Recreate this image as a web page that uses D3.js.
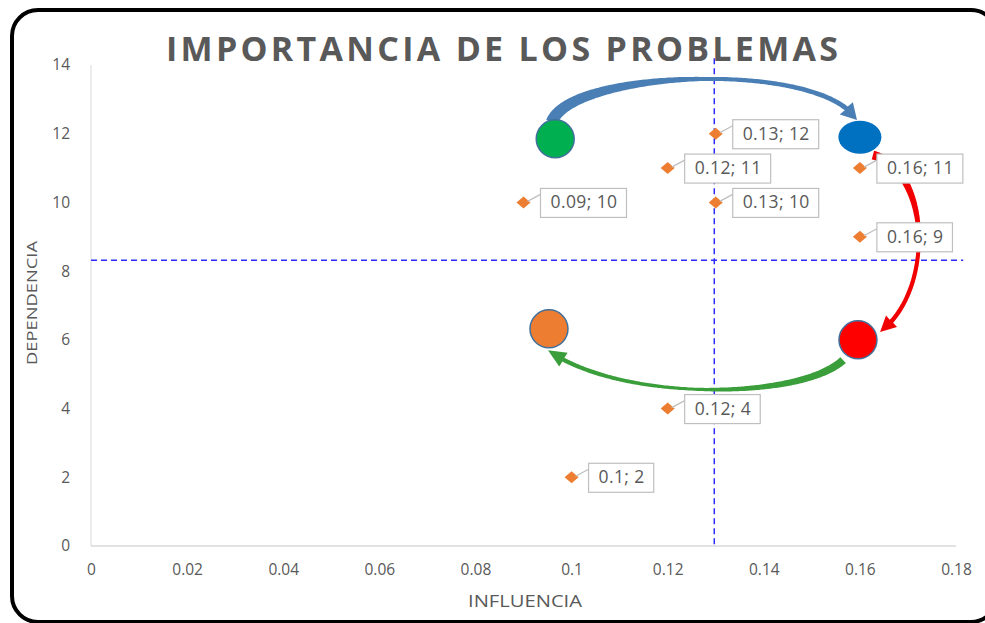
<!DOCTYPE html>
<html><head><meta charset="utf-8">
<script src="https://cdn.jsdelivr.net/npm/d3@7"></script>
<style>body{margin:0;background:#fff}svg{display:block}</style>
</head><body>
<svg id="c" width="985" height="623"></svg>
<script>
// ---- data ----
const influencia = [0.13, 0.12, 0.16, 0.09, 0.13, 0.16, 0.12, 0.1];
const dependencia = [12, 11, 11, 10, 10, 9, 4, 2];
const labels = ["0.13; 12", "0.12; 11", "0.16; 11", "0.09; 10", "0.13; 10", "0.16; 9", "0.12; 4", "0.1; 2"];
const xTicks = [0, 0.02, 0.04, 0.06, 0.08, 0.1, 0.12, 0.14, 0.16, 0.18];
const yTicks = [0, 2, 4, 6, 8, 10, 12, 14];
const meanX = 0.1297, meanY = 8.32;
// quadrant markers (annotation circles)
const markerX = [0.0966, 0.16, 0.1596, 0.0953];
const markerY = [11.85, 11.9, 6.0, 6.32];
const markerColor = ["#00B050", "#0070C0", "#FF0000", "#ED7D31"];
// curved arrows: cubic control points in data units
const arrowBlue = [[0.0959, 12.34], [0.0997, 13.85], [0.1517, 14.15], [0.1594, 12.4]];
const arrowRed = [[0.1627, 11.38], [0.1746, 10.94], [0.1757, 7.45], [0.1642, 6.23]];
const arrowGreen = [[0.1565, 5.41], [0.1476, 4.25], [0.1101, 4.19], [0.0951, 5.70]];

const svg = d3.select("#c");
const x = d3.scaleLinear().domain([0, 0.18]).range([91, 956]);
const y = d3.scaleLinear().domain([0, 14]).range([546, 65]);
const grey = "#595959";
const font = "'Open Sans', sans-serif";

// frame
svg.append("rect").attr("x", 12).attr("y", 10).attr("width", 985).attr("height", 612).attr("rx", 26)
  .attr("fill", "none").attr("stroke", "#000").attr("stroke-width", 4);

// title
svg.append("text").attr("x", 166).attr("y", 61)
  .attr("textLength", 672).attr("lengthAdjust", "spacing")
  .attr("font-family", font).attr("font-weight", "bold").attr("font-size", 34)
  .attr("fill", grey).text("IMPORTANCIA DE LOS PROBLEMAS");

// axes lines
svg.append("line").attr("x1", x(0)).attr("x2", x(0)).attr("y1", y(14)).attr("y2", y(0))
  .attr("stroke", "#D9D9D9").attr("stroke-width", 1);
svg.append("line").attr("x1", x(0)).attr("x2", x(0.18)).attr("y1", y(0)).attr("y2", y(0))
  .attr("stroke", "#D9D9D9").attr("stroke-width", 1.5);

// axes via d3
const xAxis = svg.append("g").attr("transform", `translate(0,${y(0)})`)
  .call(d3.axisBottom(x).tickValues(xTicks).tickSize(0).tickPadding(18).tickFormat(d => String(+d.toFixed(2))));
const yAxis = svg.append("g").attr("transform", `translate(${x(0)},0)`)
  .call(d3.axisLeft(y).tickValues(yTicks).tickSize(0).tickPadding(21));
[xAxis, yAxis].forEach(g => {
  g.select(".domain").remove();
  g.selectAll("text").attr("font-family", font).attr("font-size", 15.5).attr("fill", grey);
});

svg.append("text").attr("x", 525).attr("y", 607).attr("text-anchor", "middle")
  .attr("textLength", 114).attr("lengthAdjust", "spacingAndGlyphs")
  .attr("font-family", font).attr("font-size", 16).attr("fill", grey).text("INFLUENCIA");
svg.append("text").attr("transform", `translate(37,303) rotate(-90)`).attr("text-anchor", "middle")
  .attr("textLength", 124).attr("lengthAdjust", "spacingAndGlyphs")
  .attr("font-family", font).attr("font-size", 15).attr("fill", grey).text("DEPENDENCIA");

// mean dashed lines
svg.append("line").attr("x1", x(meanX)).attr("x2", x(meanX)).attr("y1", y(14.2)).attr("y2", y(0))
  .attr("stroke", "#2B2BFF").attr("stroke-width", 1.5).attr("stroke-dasharray", "6,4");
svg.append("line").attr("x1", x(0)).attr("x2", x(0.1815)).attr("y1", y(meanY)).attr("y2", y(meanY))
  .attr("stroke", "#2B2BFF").attr("stroke-width", 1.5).attr("stroke-dasharray", "6,4");

// arrows
function arrow(pts, color, wTail, wMid, wEnd, headLen, headHalf) {
  const P = pts.map(p => [x(p[0]), y(p[1])]);
  const bez = t => {
    const u = 1 - t;
    return [u*u*u*P[0][0] + 3*u*u*t*P[1][0] + 3*u*t*t*P[2][0] + t*t*t*P[3][0],
            u*u*u*P[0][1] + 3*u*u*t*P[1][1] + 3*u*t*t*P[2][1] + t*t*t*P[3][1]];
  };
  const N = 200;
  const samples = d3.range(N + 1).map(i => bez(i / N));
  const L = [0];
  for (let i = 1; i <= N; i++) L.push(L[i-1] + Math.hypot(samples[i][0]-samples[i-1][0], samples[i][1]-samples[i-1][1]));
  const total = L[N];
  let iHead = N;
  while (iHead > 0 && total - L[iHead] < headLen) iHead--;
  const left = [], right = [];
  for (let i = 0; i <= iHead; i++) {
    const t = L[i] / total;
    const w = t < 0.5 ? wTail + (wMid - wTail) * (t / 0.5) : wMid + (wEnd - wMid) * ((t - 0.5) / 0.5);
    const a = samples[Math.max(0, i-1)], b = samples[Math.min(N, i+1)];
    const dx = b[0]-a[0], dy = b[1]-a[1], len = Math.hypot(dx, dy);
    const nx = -dy/len, ny = dx/len;
    left.push([samples[i][0] + nx*w/2, samples[i][1] + ny*w/2]);
    right.push([samples[i][0] - nx*w/2, samples[i][1] - ny*w/2]);
  }
  const base = samples[iHead], tip = samples[N];
  const dx = tip[0]-base[0], dy = tip[1]-base[1], len = Math.hypot(dx, dy);
  const nx = -dy/len, ny = dx/len;
  const poly = left.concat([[base[0]+nx*headHalf, base[1]+ny*headHalf], tip, [base[0]-nx*headHalf, base[1]-ny*headHalf]], right.reverse());
  svg.append("path").attr("d", "M" + poly.map(p => p[0].toFixed(1) + "," + p[1].toFixed(1)).join("L") + "Z")
    .attr("fill", color);
}
arrow(arrowBlue, "#4A7FB6", 12, 4, 5, 15, 9);
arrow(arrowRed, "#F00000", 9, 4, 4.5, 15, 8);
arrow(arrowGreen, "#3A9E3A", 8, 3, 4.5, 17, 8);

// marker circles
svg.selectAll("ellipse.m").data(markerX.map((v, i) => i)).enter().append("ellipse")
  .attr("cx", i => x(markerX[i])).attr("cy", i => y(markerY[i]))
  .attr("rx", i => i === 1 ? 21.5 : 19).attr("ry", i => i === 1 ? 16.5 : 19)
  .attr("fill", i => markerColor[i])
  .attr("stroke", i => i === 1 ? "none" : "#41719C").attr("stroke-width", 1.5);

// data points + labels
const pts = influencia.map((v, i) => ({x: v, y: dependencia[i], label: labels[i]}));
const lab = svg.append("g");
pts.forEach(d => {
  const px = x(d.x), py = y(d.y);
  const g = lab.append("g");
  g.append("path").attr("d", `M${px-7},${py} L${px},${py-6} L${px+7},${py} L${px},${py+6} Z`)
    .attr("fill", "#ED7D31");
  g.append("line").attr("x1", px + 4).attr("y1", py - 1).attr("x2", px + 17).attr("y2", py - 8)
    .attr("stroke", "#BFBFBF").attr("stroke-width", 1.3);
  const rect = g.append("rect");
  const t = g.append("text").attr("font-family", font).attr("font-size", 17.5).attr("fill", grey)
    .attr("letter-spacing", 0.4)
    .attr("x", px + 27).attr("y", py + 6).text(d.label);
  const tw = t.node().getComputedTextLength();
  rect.attr("x", px + 17).attr("y", py - 14).attr("width", tw + 19).attr("height", 29)
    .attr("fill", "#fff").attr("stroke", "#BFBFBF").attr("stroke-width", 1.2);
});
</script>
</body></html>
